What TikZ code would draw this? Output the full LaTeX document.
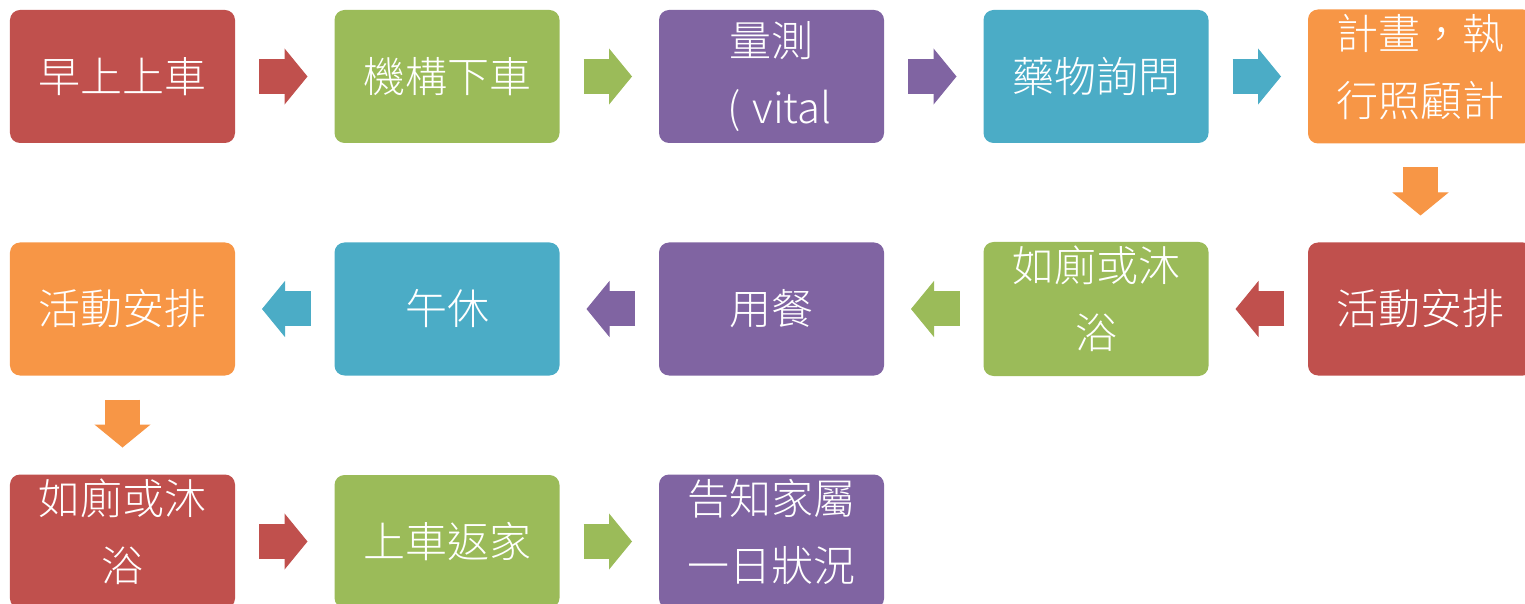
\documentclass[tikz,border=0pt]{standalone}
\usepackage{fontspec}
\setmainfont{Noto Sans CJK TC}[UprightFont=* Light]
\usetikzlibrary{
  arrows.meta,
  calc,
  positioning,
}
\definecolor{accentred}{RGB}{192, 80, 77}
\definecolor{accentgreen}{RGB}{155, 187, 89}
\definecolor{accentpurple}{RGB}{128, 100, 162}
\definecolor{accentaqua}{RGB}{75, 172, 198}
\definecolor{accentorange}{RGB}{247, 150, 70}
% two wrapped lines, set a little above the middle of the box
\newcommand{\twolines}[2]{\raisebox{3.5pt}[\height][\depth]{\begin{tabular}{@{}c@{}}#1\\#2\end{tabular}}}
\tikzset{
  box/.style={
    rectangle,
    rounded corners=5pt,
    minimum width=112.5pt,
    minimum height=66.5pt,
    inner sep=0pt,
    outer sep=0pt,
    fill=#1,
    text=white,
    align=center,
    font=\fontsize{21pt}{33.5pt}\selectfont,
  },
  flow/.style={
    draw=#1,
    line width=17.5pt,
    -{Triangle[width=28pt,length=11.5pt,line width=0.5pt]},
    shorten <=12pt,
    shorten >=13.5pt,
  },
}

\begin{document}
\begin{tikzpicture}[node distance=49.5pt and 49.75pt]

      \useasboundingbox (-61.25pt,38.25pt) rectangle ++(762.5pt,-302pt);

      % first row, left to right
      \node[box=accentred]                     (a0) {早上上車};
      \node[box=accentgreen,  right=of a0]     (a1) {機構下車};
      \node[box=accentpurple, right=of a1]     (a2) {量測\\\hspace*{8pt}(\hspace{1.5pt} vital};
      \node[box=accentaqua,   right=of a2]     (a3) {藥物詢問};
      \node[box=accentorange, right=of a3]     (a4) {\twolines{計畫，執}{行照顧計}};

      % second row, right to left
      \node[box=accentred,    below=of a4]     (b4) {活動安排};
      \node[box=accentgreen,  left=of b4]      (b3) {\twolines{如廁或沐}{浴}};
      \node[box=accentpurple, left=of b3]      (b2) {用餐};
      \node[box=accentaqua,   left=of b2]      (b1) {午休};
      \node[box=accentorange, left=of b1]      (b0) {活動安排};

      % third row
      \node[box=accentred,    below=of b0]     (c0) {\twolines{如廁或沐}{浴}};
      \node[box=accentgreen,  right=of c0]     (c1) {上車返家};
      \node[box=accentpurple, right=of c1]     (c2) {\twolines{告知家屬}{一日狀況}};

      \draw[flow=accentred]    (a0.east) -- (a1.west);
      \draw[flow=accentgreen]  (a1.east) -- (a2.west);
      \draw[flow=accentpurple] (a2.east) -- (a3.west);
      \draw[flow=accentaqua]   (a3.east) -- (a4.west);
      \draw[flow=accentorange] (a4.south) -- (b4.north);

      \draw[flow=accentred]    (b4.west) -- (b3.east);
      \draw[flow=accentgreen]  (b3.west) -- (b2.east);
      \draw[flow=accentpurple] (b2.west) -- (b1.east);
      \draw[flow=accentaqua]   (b1.west) -- (b0.east);
      \draw[flow=accentorange] (b0.south) -- (c0.north);

      \draw[flow=accentred]    (c0.east) -- (c1.west);
      \draw[flow=accentgreen]  (c1.east) -- (c2.west);

    \end{tikzpicture}
\end{document}
